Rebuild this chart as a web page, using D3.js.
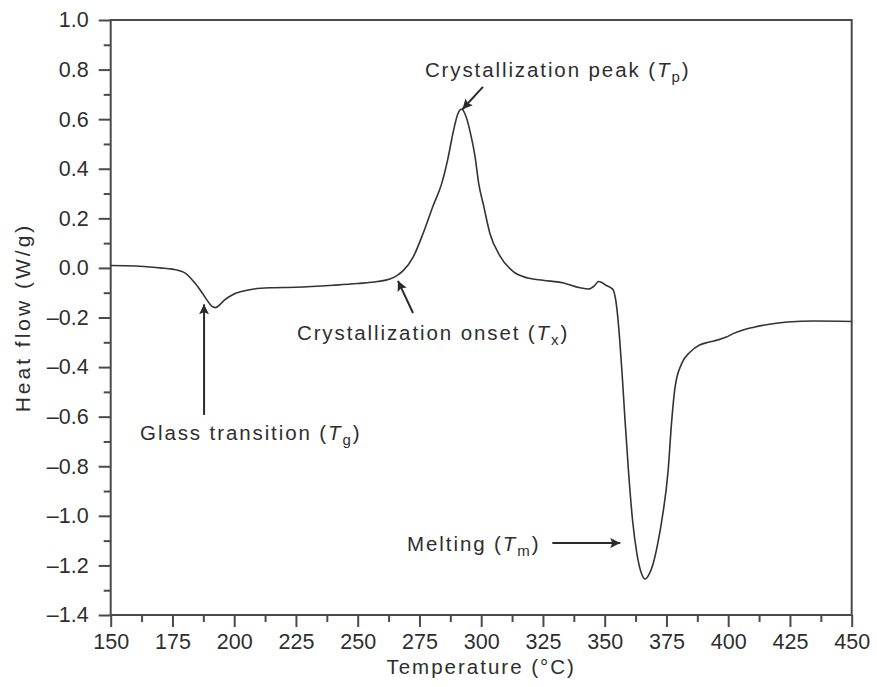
<!DOCTYPE html>
<html>
<head>
<meta charset="utf-8">
<script src="https://cdn.jsdelivr.net/npm/d3@7"></script>
<style>
  html, body { margin: 0; padding: 0; background: #fff; }
  svg { display: block; }
  text { font-family: "Liberation Sans", Arial, Helvetica, sans-serif; fill: #2e2e2e; }
</style>
</head>
<body>
<script>
// ---- Data ----
const temperature = [150, 160, 170, 175, 180, 184, 187, 189, 191, 192.5, 194, 196, 199, 203, 208, 215, 225, 240, 250, 258, 263, 266, 268.5, 272.5, 276.5, 280.5, 284, 286.5, 288.7, 290.5, 292, 293.5, 295.5, 297.5, 299, 301, 303.5, 307.5, 313, 318.5, 325, 333, 340, 343.5, 346, 347.5, 349, 350.5, 352.5, 353.5, 355, 356, 357, 358.2, 359.6, 361.3, 363, 364.8, 366.3, 368, 369.7, 371.5, 373.1, 375.7, 377.1, 378.5, 381.2, 384.5, 388.6, 392, 396, 399, 402, 406, 410, 416, 424, 435, 450];
const heatFlow = [0.01, 0.008, 0.0, -0.005, -0.02, -0.06, -0.10, -0.13, -0.155, -0.16, -0.15, -0.13, -0.11, -0.095, -0.085, -0.08, -0.078, -0.07, -0.063, -0.055, -0.045, -0.03, -0.01, 0.045, 0.14, 0.25, 0.34, 0.44, 0.55, 0.62, 0.64, 0.62, 0.55, 0.45, 0.34, 0.25, 0.14, 0.05, -0.015, -0.04, -0.05, -0.06, -0.08, -0.085, -0.07, -0.055, -0.06, -0.07, -0.08, -0.09, -0.17, -0.28, -0.42, -0.61, -0.815, -1.02, -1.15, -1.23, -1.255, -1.235, -1.19, -1.11, -1.02, -0.815, -0.62, -0.48, -0.385, -0.34, -0.31, -0.30, -0.29, -0.28, -0.265, -0.25, -0.24, -0.228, -0.218, -0.214, -0.216];

const xTicks = [150, 175, 200, 225, 250, 275, 300, 325, 350, 375, 400, 425, 450];
const xTickLabels = ["150", "175", "200", "225", "250", "275", "300", "325", "350", "375", "400", "425", "450"];
const xMinorTicks = [162.5, 187.5, 212.5, 237.5, 262.5, 287.5, 312.5, 337.5, 362.5, 387.5, 412.5, 437.5];
const yTicks = [1.0, 0.8, 0.6, 0.4, 0.2, 0.0, -0.2, -0.4, -0.6, -0.8, -1.0, -1.2, -1.4];
const yTickLabels = ["1.0", "0.8", "0.6", "0.4", "0.2", "0.0", "\u20130.2", "\u20130.4", "\u20130.6", "\u20130.8", "\u20131.0", "\u20131.2", "\u20131.4"];
const yMinorTicks = [0.9, 0.7, 0.5, 0.3, 0.1, -0.1, -0.3, -0.5, -0.7, -0.9, -1.1, -1.3];

const xTitle = "Temperature (\u00B0C)";
const yTitle = "Heat flow (W/g)";

// annotation texts: [main, italic symbol, subscript]
const annoLabels = [
  ["Crystallization peak (", "T", "p"],
  ["Crystallization onset (", "T", "x"],
  ["Glass transition (", "T", "g"],
  ["Melting (", "T", "m"]
];
// text anchor (data coords) and arrow from/to (data coords)
const annoTextPos = [[277.2, 0.77], [225.4, -0.292], [161.9, -0.694], [270.0, -1.142]];
const annoArrowFrom = [[300.7, 0.73], [272.4, -0.182], [187.8, -0.593], [328.8, -1.110]];
const annoArrowTo = [[292.4, 0.64], [266.3, -0.052], [187.8, -0.147], [356.3, -1.110]];

// ---- Layout ----
const W = 877, H = 687;
const m = { left: 110.7, right: 25.3, top: 20, bottom: 72 };

const svg = d3.select("body").append("svg").attr("width", W).attr("height", H);

const x = d3.scaleLinear().domain([150, 450]).range([m.left, W - m.right]);
const y = d3.scaleLinear().domain([-1.4, 1.0]).range([H - m.bottom, m.top]);

const axisColor = "#4a4a4a";

// defs arrowhead
svg.append("defs").append("marker")
  .attr("id", "ah").attr("viewBox", "0 0 10 10")
  .attr("refX", 10).attr("refY", 5)
  .attr("markerWidth", 16).attr("markerHeight", 10)
  .attr("markerUnits", "userSpaceOnUse")
  .attr("orient", "auto")
  .append("path").attr("d", "M0,0 L10,5 L0,10 L2,5 Z").attr("fill", "#2a2a2a");

// frame
svg.append("rect")
  .attr("x", x(150)).attr("y", y(1.0))
  .attr("width", x(450) - x(150)).attr("height", y(-1.4) - y(1.0))
  .attr("fill", "none").attr("stroke", axisColor).attr("stroke-width", 2);

// axes
const fmtX = d => xTickLabels[xTicks.indexOf(d)];
const fmtY = d => yTickLabels[yTicks.indexOf(d)];

const gx = svg.append("g").attr("transform", `translate(0,${y(-1.4)})`)
  .call(d3.axisBottom(x).tickValues(xTicks).tickFormat(fmtX).tickSize(12).tickSizeOuter(0).tickPadding(7));
const gxm = svg.append("g").attr("transform", `translate(0,${y(-1.4)})`)
  .call(d3.axisBottom(x).tickValues(xMinorTicks).tickFormat("").tickSize(7).tickSizeOuter(0));
const gy = svg.append("g").attr("transform", `translate(${x(150)},0)`)
  .call(d3.axisLeft(y).tickValues(yTicks).tickFormat(fmtY).tickSize(12).tickSizeOuter(0).tickPadding(10));
const gym = svg.append("g").attr("transform", `translate(${x(150)},0)`)
  .call(d3.axisLeft(y).tickValues(yMinorTicks).tickFormat("").tickSize(7).tickSizeOuter(0));

[gx, gxm, gy, gym].forEach(g => {
  g.select(".domain").remove();
  g.selectAll(".tick line").attr("stroke", axisColor).attr("stroke-width", 2);
  g.selectAll(".tick text").attr("font-size", 21.5).attr("fill", "#2e2e2e")
    .style("font-family", '"Liberation Sans", Arial, sans-serif');
});

// curve
const pts = temperature.map((t, i) => [t, heatFlow[i]]);
svg.append("path")
  .datum(pts)
  .attr("fill", "none")
  .attr("stroke", "#333")
  .attr("stroke-width", 1.6)
  .attr("stroke-linejoin", "round")
  .attr("d", d3.line().x(d => x(d[0])).y(d => y(d[1])).curve(d3.curveMonotoneX));

// axis titles
svg.append("text")
  .attr("x", (x(150) + x(450)) / 2).attr("y", 674)
  .attr("text-anchor", "middle").attr("font-size", 20.5).attr("letter-spacing", 2)
  .text(xTitle);
svg.append("text")
  .attr("transform", `translate(30,${(y(1.0) + y(-1.4)) / 2}) rotate(-90)`)
  .attr("text-anchor", "middle").attr("font-size", 21).attr("letter-spacing", 3)
  .text(yTitle);

// annotations
annoLabels.forEach((lab, i) => {
  const t = svg.append("text")
    .attr("x", x(annoTextPos[i][0])).attr("y", y(annoTextPos[i][1]))
    .attr("font-size", 20.5).attr("letter-spacing", 1.9);
  t.append("tspan").text(lab[0]);
  t.append("tspan").attr("font-style", "italic").text(lab[1]);
  t.append("tspan").attr("font-size", 15).attr("dy", 5).text(lab[2]);
  t.append("tspan").attr("dy", -5).text(")");

  svg.append("line")
    .attr("x1", x(annoArrowFrom[i][0])).attr("y1", y(annoArrowFrom[i][1]))
    .attr("x2", x(annoArrowTo[i][0])).attr("y2", y(annoArrowTo[i][1]))
    .attr("stroke", "#2a2a2a").attr("stroke-width", 2)
    .attr("marker-end", "url(#ah)");
});
</script>
</body>
</html>
